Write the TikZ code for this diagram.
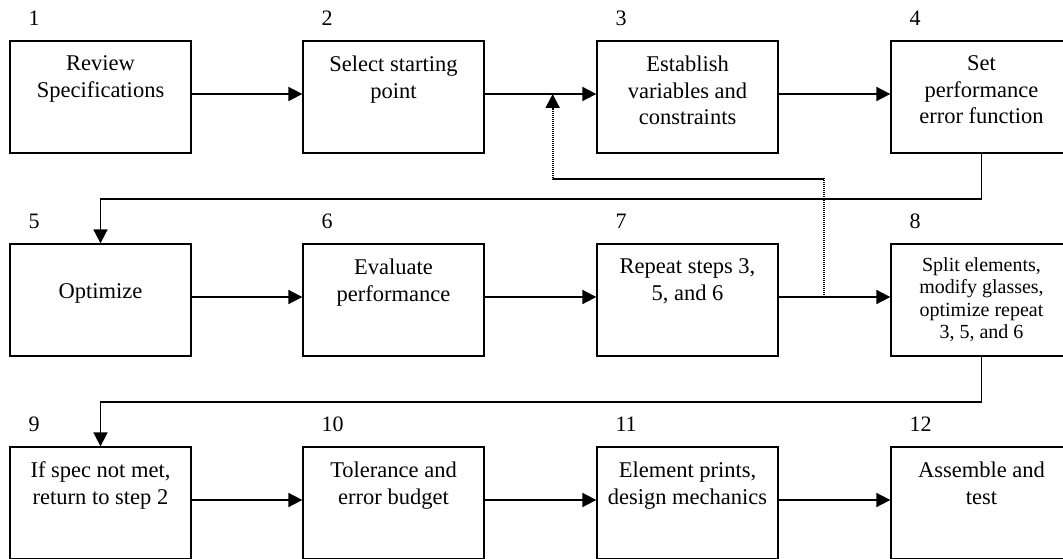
\documentclass[tikz,border=0pt]{standalone}
\usepackage{fontspec}
\setmainfont{Liberation Serif}
\usetikzlibrary{arrows.meta}
\tikzset{
  stepbox/.style={draw, line width=1.3pt, minimum width=181pt, minimum height=112pt, inner sep=0pt},
  steptext/.style={anchor=north, align=center, inner sep=0pt, font=\fontsize{22.5}{26.5}\selectfont},
  smalltext/.style={steptext, font=\fontsize{20}{22.5}\selectfont},
  steplabel/.style={anchor=base west, inner sep=0pt, font=\fontsize{22}{26}\selectfont},
  flow/.style={line width=1.8pt, -{Triangle[length=14pt,width=14pt]}},
  fbline/.style={line width=1.8pt, dash pattern=on 1.3pt off 0.7pt, -{Triangle[length=14pt,width=14pt]}}
}
\begin{document}
\begin{tikzpicture}[x=1pt,y=1pt]
\clip (0,0) rectangle (1063,558);
% boxes
\node[stepbox] (b1) at (100.5,461) {};\node[stepbox] (b2) at (393.5,461) {};
\node[stepbox] (b3) at (687.5,461) {};\node[stepbox] (b4) at (981.5,461) {};
\node[stepbox] (b5) at (100.5,258) {};\node[stepbox] (b6) at (393.5,258) {};
\node[stepbox] (b7) at (687.5,258) {};\node[stepbox] (b8) at (981.5,258) {};
\node[stepbox] (b9) at (100.5,55) {};\node[stepbox] (b10) at (393.5,55) {};
\node[stepbox] (b11) at (687.5,55) {};\node[stepbox] (b12) at (981.5,55) {};
% step numbers
\node[steplabel] (n1) at ([shift={(19,15)}]b1.north west) {1};
\node[steplabel] (n2) at ([shift={(19,15)}]b2.north west) {2};
\node[steplabel] (n3) at ([shift={(19,15)}]b3.north west) {3};
\node[steplabel] (n4) at ([shift={(19,15)}]b4.north west) {4};
\node[steplabel] (n5) at ([shift={(19,15)}]b5.north west) {5};
\node[steplabel] (n6) at ([shift={(19,15)}]b6.north west) {6};
\node[steplabel] (n7) at ([shift={(19,15)}]b7.north west) {7};
\node[steplabel] (n8) at ([shift={(19,15)}]b8.north west) {8};
\node[steplabel] (n9) at ([shift={(19,15)}]b9.north west) {9};
\node[steplabel] (n10) at ([shift={(19,15)}]b10.north west) {10};
\node[steplabel] (n11) at ([shift={(19,15)}]b11.north west) {11};
\node[steplabel] (n12) at ([shift={(19,15)}]b12.north west) {12};
% texts
\node[steptext] (t1) at ([yshift=-15.5]b1.north) {Review\\Specifications};
\node[steptext] (t2) at ([yshift=-15.5]b2.north) {Select starting\\point};
\node[steptext] (t3) at ([yshift=-15.5]b3.north) {Establish\\variables and\\constraints};
\node[steptext] (t4) at ([yshift=-15.5]b4.north) {Set\\performance\\error function};
\node[steptext] (t5) at ([yshift=-40.5]b5.north) {Optimize};
\node[steptext] (t6) at ([yshift=-15.5]b6.north) {Evaluate\\performance};
\node[steptext] (t7) at ([yshift=-15.5]b7.north) {Repeat steps 3,\\5, and 6};
\node[smalltext] (t8) at ([yshift=-14]b8.north) {Split elements,\\modify glasses,\\optimize repeat\\3, 5, and 6};
\node[steptext] (t9) at ([yshift=-15.5]b9.north) {If spec not met,\\return to step 2};
\node[steptext] (t10) at ([yshift=-15.5]b10.north) {Tolerance and\\error budget};
\node[steptext] (t11) at ([yshift=-15.5]b11.north) {Element prints,\\design mechanics};
\node[steptext] (t12) at ([yshift=-15.5]b12.north) {Assemble and\\test};
% connectors
\draw[flow] ([yshift=3]b1.east) -- ([yshift=3]b2.west);
\draw[flow] ([yshift=3]b2.east) -- ([yshift=3]b3.west);
\draw[flow] ([yshift=3]b3.east) -- ([yshift=3]b4.west);
\draw[flow] (b4.south) -- ++(0,-45) -| (b5.north);
\draw[flow] ([yshift=3]b5.east) -- ([yshift=3]b6.west);
\draw[flow] ([yshift=3]b6.east) -- ([yshift=3]b7.west);
\draw[flow] ([yshift=3]b7.east) -- ([yshift=3]b8.west);
\draw[flow] (b8.south) -- ++(0,-45) -| (b9.north);
\draw[flow] ([yshift=3]b9.east) -- ([yshift=3]b10.west);
\draw[flow] ([yshift=3]b10.east) -- ([yshift=3]b11.west);
\draw[flow] ([yshift=3]b11.east) -- ([yshift=3]b12.west);
% feedback loop
\coordinate (fb) at ([shift={(45,3)}]b7.east);
\coordinate (fe) at ([shift={(68,3)}]b2.east);
\draw[fbline] (fb) -- ++(0,118) -| (fe);
\end{tikzpicture}
\end{document}
